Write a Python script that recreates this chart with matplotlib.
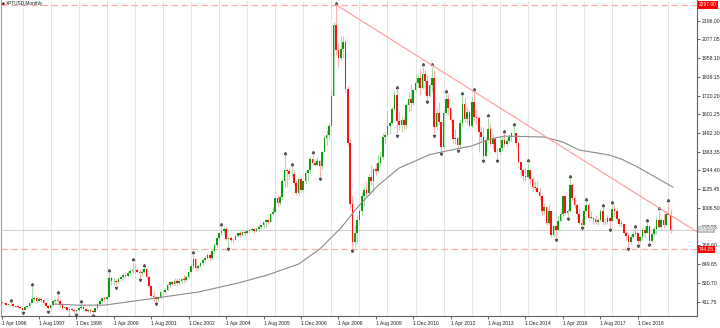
import matplotlib
matplotlib.use('Agg')
import matplotlib.pyplot as plt
import matplotlib.transforms as mtransforms
import numpy as np
import pandas as pd

plt.rcParams['font.family'] = ['Liberation Sans', 'DejaVu Sans']

title = 'XPTUSD,Monthly'
first_month = '1996-03'

# monthly OHLC, Mar 1996 .. Mar 2020 (one line per year)
opens = [
    418, 410, 402, 400, 392, 394, 398, 384, 380, 378,
    368, 360, 380, 385, 405, 425, 435, 415, 430, 420, 405, 385,
    370, 390, 415, 420, 415, 390, 370, 378, 360, 365, 355, 350,
    356, 370, 375, 362, 352, 356, 350, 348, 368, 395, 418, 432,
    430, 440, 560, 540, 545, 535, 555, 565, 580, 575, 595, 605,
    615, 610, 600, 590, 600, 620, 570, 510, 450, 440, 425, 440,
    475, 470, 485, 515, 535, 525, 545, 530, 545, 555, 550, 570,
    598, 640, 680, 625, 640, 655, 675, 690, 705, 690, 735, 770,
    815, 845, 860, 870, 810, 815, 800, 805, 830, 845, 835, 855,
    845, 860, 865, 870, 860, 875, 885, 895, 915, 930, 920, 965,
    980, 1070, 1040, 1075, 1180, 1250, 1240, 1220, 1225, 1165, 1100, 1190,
    1120, 1175, 1230, 1245, 1320, 1290, 1280, 1305, 1270, 1365, 1450, 1470,
    1530, 1720, 2170, 2010, 1960, 2015, 2060, 1760, 1420, 1030, 790, 850,
    930, 985, 1080, 1120, 1100, 1200, 1180, 1255, 1240, 1290, 1330, 1460,
    1470, 1530, 1545, 1635, 1725, 1560, 1535, 1565, 1535, 1660, 1700, 1675,
    1755, 1800, 1835, 1770, 1860, 1810, 1720, 1790, 1830, 1520, 1610, 1550,
    1395, 1610, 1700, 1640, 1565, 1445, 1450, 1405, 1545, 1665, 1570, 1615,
    1530, 1680, 1585, 1575, 1490, 1455, 1335, 1435, 1510, 1415, 1445, 1365,
    1360, 1385, 1440, 1410, 1430, 1460, 1480, 1480, 1420, 1300, 1245, 1210,
    1205, 1250, 1190, 1140, 1130, 1110, 1085, 985, 1010, 910, 985, 835,
    890, 865, 925, 965, 1080, 975, 985, 1155, 1070, 1025, 965, 910,
    900, 990, 1025, 945, 945, 935, 920, 930, 985, 915, 915, 940,
    925, 1000, 990, 935, 905, 905, 850, 830, 790, 820, 840, 845,
    795, 820, 865, 850, 890, 795, 840, 875, 930, 885, 930, 900,
    970, 960, 865,
]
highs = [
    424, 416, 410, 404, 398, 408, 400, 390, 386, 380,
    372, 384, 392, 412, 510, 448, 440, 440, 438, 428, 410, 390,
    395, 420, 430, 460, 425, 395, 385, 380, 372, 372, 362, 360,
    380, 402, 380, 368, 360, 362, 355, 372, 400, 425, 440, 445,
    445, 600, 570, 560, 555, 560, 575, 590, 600, 605, 620, 665,
    650, 625, 618, 620, 630, 625, 575, 520, 470, 445, 445, 480,
    490, 495, 525, 545, 545, 560, 555, 560, 565, 580, 580, 605,
    650, 715, 690, 650, 665, 685, 700, 720, 720, 740, 775, 825,
    850, 890, 885, 885, 825, 830, 815, 840, 850, 860, 860, 865,
    870, 875, 880, 880, 880, 895, 905, 920, 935, 945, 975, 1015,
    1080, 1090, 1090, 1190, 1340, 1260, 1260, 1270, 1250, 1185, 1200, 1200,
    1185, 1240, 1255, 1335, 1345, 1320, 1330, 1310, 1370, 1470, 1500, 1545,
    1760, 2190, 2297, 2055, 2100, 2100, 2080, 1780, 1450, 1080, 900, 960,
    1000, 1110, 1145, 1175, 1230, 1280, 1260, 1290, 1350, 1370, 1485, 1495,
    1620, 1560, 1650, 1750, 1760, 1620, 1590, 1580, 1670, 1740, 1795, 1765,
    1860, 1860, 1890, 1905, 1880, 1850, 1800, 1905, 1880, 1640, 1680, 1560,
    1630, 1735, 1730, 1650, 1580, 1510, 1460, 1570, 1725, 1710, 1650, 1630,
    1710, 1745, 1630, 1590, 1530, 1520, 1460, 1580, 1545, 1470, 1460, 1390,
    1465, 1465, 1480, 1450, 1475, 1490, 1525, 1485, 1425, 1300, 1260, 1265,
    1295, 1250, 1210, 1180, 1175, 1130, 1090, 1040, 1020, 1030, 990, 900,
    900, 960, 1000, 1090, 1095, 1000, 1195, 1165, 1080, 1030, 1005, 945,
    1005, 1050, 1035, 985, 950, 960, 945, 1000, 1010, 945, 960, 945,
    1030, 1025, 1000, 945, 930, 910, 860, 845, 840, 870, 880, 850,
    830, 880, 890, 915, 900, 845, 890, 950, 990, 940, 965, 985,
    1040, 1000, 875,
]
lows = [
    405, 398, 395, 388, 385, 390, 380, 375, 372, 362,
    355, 358, 372, 378, 400, 412, 405, 408, 412, 395, 380, 362,
    365, 385, 400, 410, 380, 360, 362, 352, 325, 350, 342, 340,
    352, 365, 355, 348, 345, 340, 335, 345, 362, 385, 405, 415,
    418, 435, 520, 520, 515, 530, 540, 550, 560, 565, 580, 595,
    595, 590, 560, 575, 590, 555, 500, 440, 415, 410, 415, 430,
    455, 460, 480, 505, 515, 515, 520, 525, 530, 535, 540, 560,
    595, 620, 610, 615, 630, 645, 665, 680, 675, 685, 720, 760,
    795, 835, 840, 800, 760, 790, 785, 800, 820, 825, 830, 830,
    840, 850, 855, 850, 855, 860, 875, 880, 885, 905, 915, 955,
    970, 1020, 1025, 1065, 1140, 1140, 1190, 1200, 1150, 1090, 1090, 1110,
    1115, 1160, 1180, 1230, 1280, 1275, 1275, 1205, 1255, 1360, 1405, 1440,
    1520, 1715, 1980, 1900, 1940, 1960, 1740, 1400, 1000, 744, 760, 780,
    900, 960, 1020, 1080, 1090, 1150, 1110, 1215, 1235, 1280, 1320, 1410,
    1460, 1475, 1540, 1630, 1480, 1500, 1490, 1505, 1510, 1615, 1630, 1660,
    1745, 1770, 1730, 1760, 1730, 1695, 1710, 1740, 1480, 1500, 1540, 1360,
    1390, 1600, 1600, 1555, 1420, 1410, 1380, 1390, 1530, 1550, 1545, 1520,
    1520, 1560, 1535, 1365, 1435, 1320, 1330, 1430, 1400, 1380, 1355, 1320,
    1350, 1370, 1395, 1400, 1420, 1425, 1470, 1395, 1295, 1200, 1175, 1175,
    1200, 1160, 1110, 1120, 1100, 1060, 960, 960, 900, 905, 825, 825,
    815, 860, 915, 955, 965, 950, 980, 1060, 1005, 935, 905, 890,
    900, 985, 930, 935, 905, 905, 900, 925, 900, 905, 905, 880,
    925, 950, 925, 890, 885, 840, 800, 760, 780, 815, 830, 780,
    790, 800, 815, 850, 785, 790, 835, 840, 880, 875, 880, 890,
    955, 850, 860,
]
closes = [
    410, 402, 400, 392, 394, 398, 384, 380, 378, 368,
    360, 380, 385, 405, 425, 435, 415, 430, 420, 405, 385, 370,
    390, 415, 420, 415, 390, 370, 378, 360, 365, 355, 350, 356,
    370, 375, 362, 352, 356, 350, 348, 368, 395, 418, 432, 430,
    440, 560, 540, 545, 535, 555, 565, 580, 575, 595, 605, 615,
    610, 600, 590, 600, 620, 570, 510, 450, 440, 425, 440, 475,
    470, 485, 515, 535, 525, 545, 530, 545, 555, 550, 570, 598,
    640, 680, 625, 640, 655, 675, 690, 705, 690, 735, 770, 815,
    845, 860, 870, 810, 815, 800, 805, 830, 845, 835, 855, 845,
    860, 865, 870, 860, 875, 885, 895, 915, 930, 920, 965, 980,
    1070, 1040, 1075, 1180, 1250, 1240, 1220, 1225, 1165, 1100, 1190, 1120,
    1175, 1230, 1245, 1320, 1290, 1280, 1305, 1270, 1365, 1450, 1470, 1530,
    1720, 2170, 2010, 1960, 2015, 2060, 1760, 1420, 1030, 790, 850, 930,
    985, 1080, 1120, 1100, 1200, 1180, 1255, 1240, 1290, 1330, 1460, 1470,
    1530, 1545, 1635, 1725, 1560, 1535, 1565, 1535, 1660, 1700, 1675, 1755,
    1800, 1835, 1770, 1860, 1810, 1720, 1790, 1830, 1520, 1610, 1550, 1395,
    1610, 1700, 1640, 1565, 1445, 1450, 1405, 1545, 1665, 1570, 1615, 1530,
    1680, 1585, 1575, 1490, 1455, 1335, 1435, 1510, 1415, 1445, 1365, 1360,
    1385, 1440, 1410, 1430, 1460, 1480, 1480, 1420, 1300, 1245, 1210, 1205,
    1250, 1190, 1140, 1130, 1110, 1085, 985, 1010, 910, 985, 835, 890,
    865, 925, 965, 1080, 975, 985, 1155, 1070, 1025, 965, 910, 900,
    990, 1025, 945, 945, 935, 920, 930, 985, 915, 915, 940, 925,
    1000, 990, 935, 905, 905, 850, 830, 790, 820, 840, 845, 795,
    820, 865, 850, 890, 795, 840, 875, 930, 885, 930, 900, 970,
    960, 865, 868,
]

# moving average
ma_months = ['1998-02', '1999-01', '1999-12', '2001-07', '2003-04', '2004-09',
             '2005-10', '2006-11', '2007-08', '2008-05', '2009-01', '2009-09',
             '2010-06', '2011-07', '2012-04', '2013-01', '2013-09', '2014-03',
             '2015-08', '2016-04', '2016-11', '2017-07', '2017-12', '2018-05',
             '2018-12', '2020-03']
ma_values = [396, 389, 389, 428, 472, 529, 582, 650, 745, 878, 1025, 1150,
             1260, 1345, 1374, 1400, 1445, 1463, 1457, 1425, 1374, 1355, 1342,
             1317, 1266, 1139]

# trend line anchors and horizontal levels
trend_months = ['2008-03', '2020-01']
trend_prices = [2297, 970]
level_high = 2297.00
level_low = 744.05
last_price = 868.15

price_ticks = [411.75, 530.70, 649.65, 768.60, 887.55, 1006.50, 1125.45, 1244.40,
               1363.35, 1482.30, 1601.25, 1720.20, 1839.15, 1958.10, 2077.05, 2196.00]
date_labels = ['1 Apr 1996', '1 Aug 1997', '1 Dec 1998', '1 Apr 2000', '1 Aug 2001',
               '1 Dec 2002', '1 Apr 2004', '1 Aug 2005', '1 Dec 2006', '1 Apr 2008',
               '1 Aug 2009', '1 Dec 2010', '1 Apr 2012', '1 Aug 2013', '1 Dec 2014',
               '1 Apr 2016', '1 Aug 2017', '1 Dec 2018']

base = pd.Period('1996-04', 'M')


def month_pos(m):
    return (pd.Period(m, 'M') - base).n


months = pd.period_range(first_month, periods=len(closes), freq='M')
xs = np.array([(m - base).n for m in months])
o = np.array(opens, float)
h = np.array(highs, float)
l = np.array(lows, float)
c = np.array(closes, float)
up = c >= o

fig = plt.figure(figsize=(7.2, 3.28), dpi=100)
ax = fig.add_axes([0.001, 12 / 328, 696 / 720, 316 / 328])
ax.set_facecolor('white')

# vertical grid at every January
jan = [x for x, m in zip(xs, months) if m.month == 1]
for x in jan:
    ax.axvline(x, color='#c4c4c4', lw=0.6, ls=(0, (1.2, 1.2)), zorder=0)

# wicks and bodies
ax.vlines(xs[up], l[up], h[up], color='#a8dca8', lw=0.8, zorder=2)
ax.vlines(xs[~up], l[~up], h[~up], color='#ffb0b0', lw=0.8, zorder=2)
body_lo = np.minimum(o, c)
body_h = np.maximum(np.abs(c - o), 3)
ax.bar(xs[up], body_h[up], bottom=body_lo[up], width=0.7, color='#0f9a0f', lw=0, zorder=3)
ax.bar(xs[~up], body_h[~up], bottom=body_lo[~up], width=0.7, color='#ff1010', lw=0, zorder=3)

# fractals
n = len(h)
up_fr = [i for i in range(2, n - 2) if h[i] > max(h[i - 2], h[i - 1], h[i + 1], h[i + 2])]
dn_fr = [i for i in range(2, n - 2) if l[i] < min(l[i - 2], l[i - 1], l[i + 1], l[i + 2])]
ax.plot(xs[up_fr], h[up_fr] + 14, ls='none', marker='^', ms=1.6, color='#505050', zorder=4)
ax.plot(xs[dn_fr], l[dn_fr] - 14, ls='none', marker='v', ms=1.6, color='#505050', zorder=4)

# moving average
ax.plot([month_pos(m) for m in ma_months], ma_values, color='#8a8a8a', lw=0.8, zorder=4)

# horizontal levels and price line
ax.axhline(level_high, color='#ffaaaa', lw=0.9, ls=(0, (5, 3)), zorder=1)
ax.axhline(level_low, color='#ffaaaa', lw=0.9, ls=(0, (5, 3)), zorder=1)
ax.axhline(last_price, color='#c8c8c8', lw=0.6, zorder=1)

# trend line from the peak, extended to the right edge
x0, x1 = month_pos(trend_months[0]), month_pos(trend_months[1])
slope = (trend_prices[1] - trend_prices[0]) / (x1 - x0)
x_end = 300
ax.plot([x0, x_end], [trend_prices[0], trend_prices[0] + slope * (x_end - x0)],
        color='#ff9a9a', lw=0.8, zorder=5)

ax.set_xlim(-0.34, 297.2)
ax.set_ylim(320, 2327.5)

# axes styling
ax.spines['top'].set_visible(False)
ax.spines['left'].set_color('#a0a0a0')
ax.spines['left'].set_linewidth(0.8)
ax.spines['right'].set_color('#606060')
ax.spines['bottom'].set_color('#606060')
ax.spines['right'].set_linewidth(0.8)
ax.spines['bottom'].set_linewidth(0.8)

ax.yaxis.tick_right()
ax.set_yticks(price_ticks)
ax.set_yticklabels([f'{p:.2f}' for p in price_ticks])
ax.tick_params(axis='y', length=2, width=0.5, pad=1.5, labelsize=3.7, colors='#202020')

ax.set_xticks([month_pos(pd.Timestamp(d).strftime('%Y-%m')) for d in date_labels])
ax.set_xticklabels(date_labels)
for t in ax.get_xticklabels():
    t.set_ha('left')
ax.tick_params(axis='x', length=2, width=0.5, pad=1.5, labelsize=3.6, colors='#202020')

# price labels on the axis
yt = mtransforms.blended_transform_factory(ax.transAxes, ax.transData)
for price, fc in [(level_high, '#ff0000'), (level_low, '#ff0000'), (last_price, '#c0c0c0')]:
    ax.text(1.003, price, f'{price:.2f}', transform=yt, ha='left', va='center',
            fontsize=3.5, color='white', clip_on=False, zorder=10,
            bbox=dict(boxstyle='square,pad=0.25', fc=fc, ec=fc, lw=0))

ax.text(0.001, 0.996, '\u25a0', transform=ax.transAxes, ha='left', va='top',
        fontsize=3.4, color='#8b0000')
ax.text(0.007, 0.996, title, transform=ax.transAxes, ha='left', va='top',
        fontsize=3.4, color='#202020')

fig.savefig('out.png', dpi=100, facecolor='white')
